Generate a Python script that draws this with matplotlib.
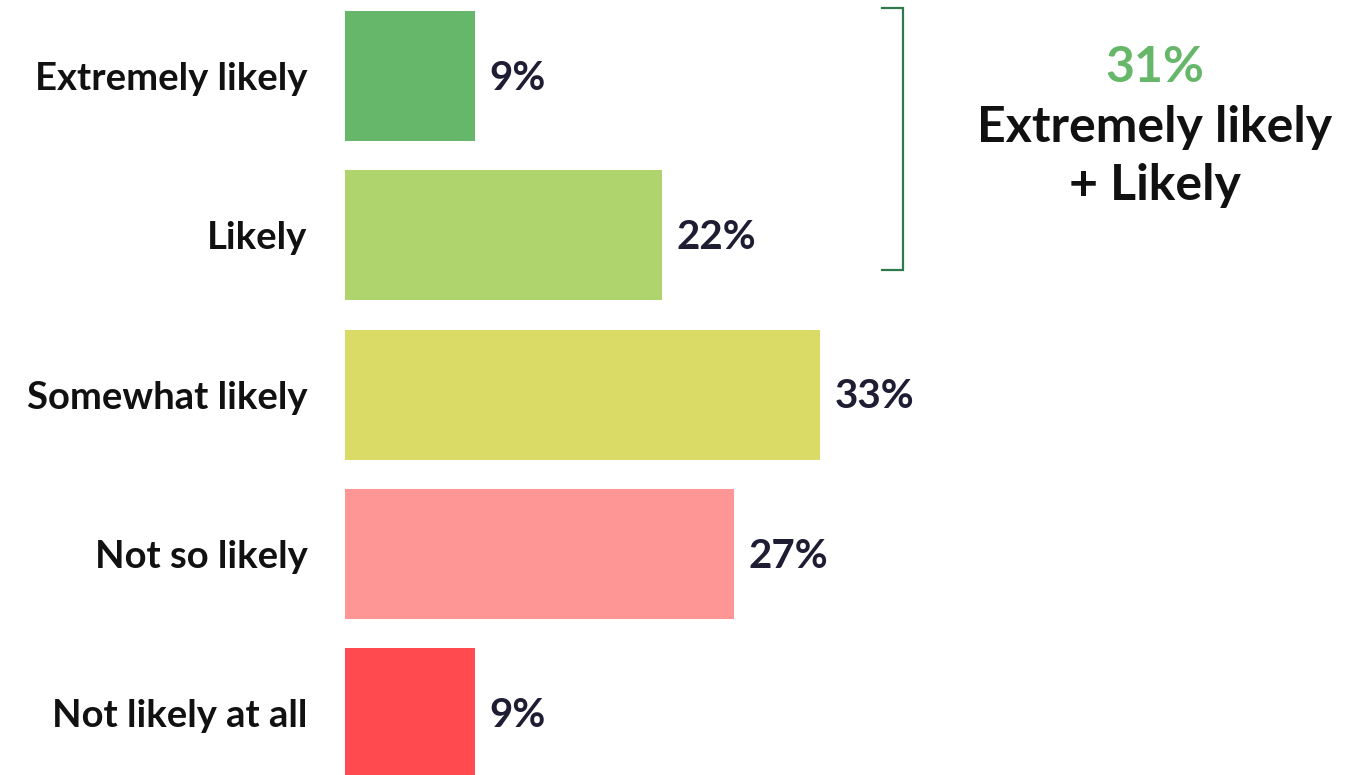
import matplotlib
matplotlib.use("Agg")
import matplotlib.pyplot as plt

categories = ["Extremely likely", "Likely", "Somewhat likely", "Not so likely", "Not likely at all"]
values = [9, 22, 33, 27, 9]
bar_colors = ["#66b76a", "#b0d46d", "#dada66", "#ff9696", "#ff4a50"]
combined_label = "31%"
combined_lines = ["Extremely likely", "+ Likely"]

plt.rcParams["font.family"] = ["Lato", "DejaVu Sans"]

W, H = 1345, 775
fig = plt.figure(figsize=(W / 100, H / 100), dpi=100)
left_px = 345
px_per_pct = 14.4
ax = fig.add_axes([left_px / W, 0, 1 - left_px / W, 1])

step_px = 159.3
first_center_px = 76
ax.set_xlim(0, (W - left_px) / px_per_pct)
ax.set_ylim((H - first_center_px) / step_px, -first_center_px / step_px)

ypos = list(range(len(categories)))
ax.barh(ypos, values, height=130 / step_px, color=bar_colors)

label_offset = 15 / px_per_pct
for y, v in zip(ypos, values):
    ax.text(v + label_offset, y + 0.015, f"{v}%", va="center", ha="left",
            fontsize=29, fontweight="bold", color="#1f1d33")

ax.set_yticks(ypos)
ax.set_yticklabels(categories, fontsize=27.5, fontweight="bold", color="#111111")
ax.tick_params(axis="y", length=0, pad=27)
ax.tick_params(axis="x", bottom=False, labelbottom=False)
for s in ax.spines.values():
    s.set_visible(False)

# bracket grouping the top two bars
bx = (903 - left_px) / px_per_pct
hx = (882 - left_px) / px_per_pct
ytop = (8 - first_center_px) / step_px
ybot = (270 - first_center_px) / step_px
ax.plot([hx, bx, bx, hx], [ytop, ytop, ybot, ybot], color="#2e7a4c",
        lw=1.6, solid_joinstyle="miter", clip_on=False)

fig.text(1155 / W, 1 - 67 / H, combined_label, ha="center", va="center",
         fontsize=36, fontweight="bold", color="#66b76a")
for i, line in enumerate(combined_lines):
    fig.text(1155 / W, 1 - (128 + 57 * i) / H, line, ha="center", va="center",
             fontsize=36, fontweight="bold", color="#111111")

fig.savefig("out.png", dpi=100, facecolor="white")
